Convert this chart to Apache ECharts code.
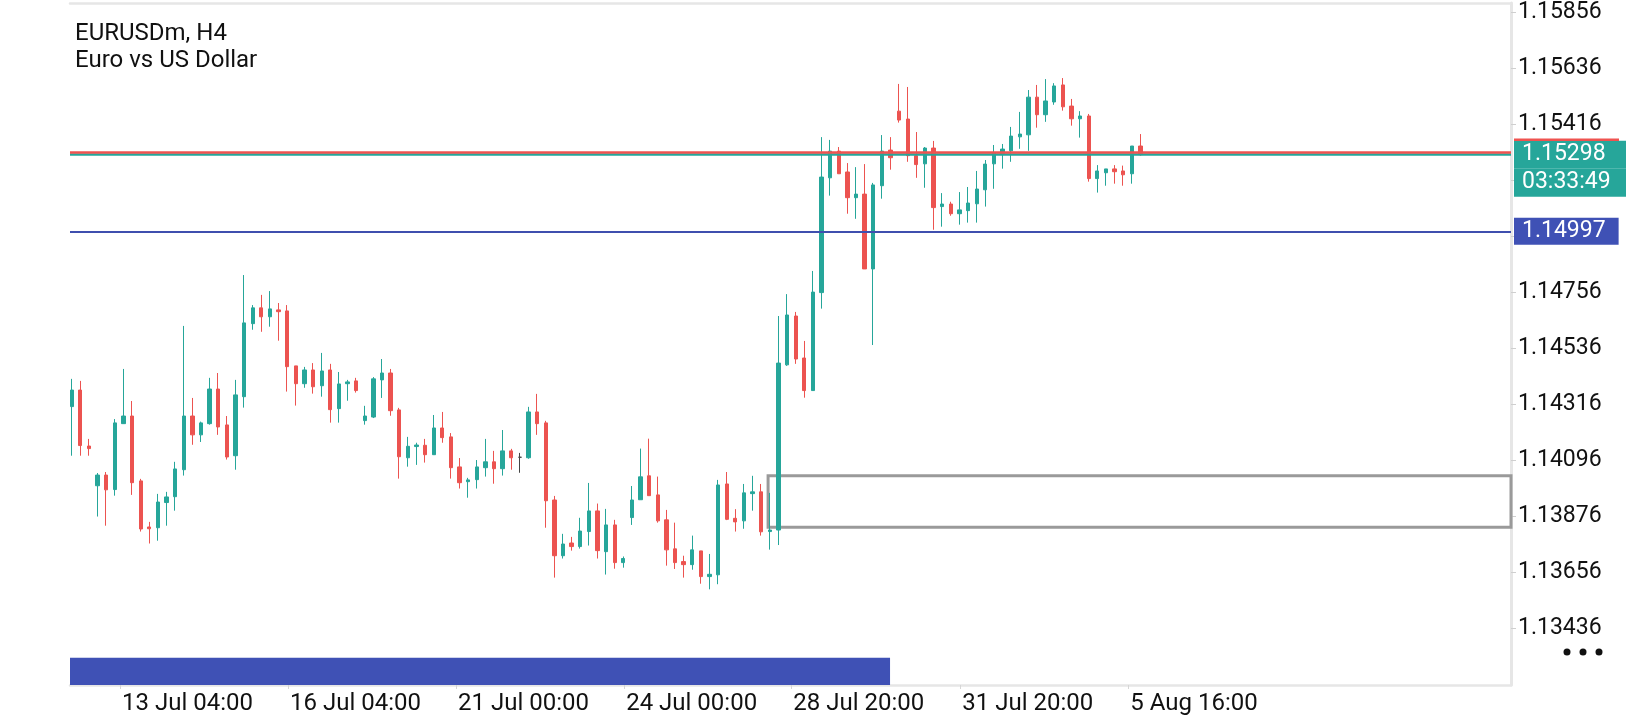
<!DOCTYPE html>
<html>
<head>
<meta charset="utf-8">
<script src="https://cdn.jsdelivr.net/npm/echarts@6/dist/echarts.min.js"></script>
<style>
  html, body { margin: 0; padding: 0; background: #fff; }
  #chart { width: 1640px; height: 720px; }
</style>
</head>
<body>
<div id="chart"></div>
<script>
// ---- data (EURUSDm, H4) ----
const opens = [1.14308,1.14373,1.14153,1.13997,1.14039,1.13982,1.14241,1.14271,1.14016,1.13835,
1.13832,1.13931,1.13954,1.14060,1.14271,1.14197,1.14241,1.14377,1.14236,1.14115,
1.14347,1.14634,1.14696,1.14661,1.14688,1.14684,1.14468,1.14398,1.14452,1.14390,
1.14452,1.14300,1.14398,1.14409,1.14253,1.14267,1.14413,1.14440,1.14295,1.14107,
1.14151,1.14156,1.14119,1.14224,1.14189,1.14071,1.14013,1.14021,1.14068,1.14091,
1.14064,1.14134,1.14109,1.14107,1.14287,1.14244,1.13941,1.13722,1.13772,1.13758,
1.13817,1.13898,1.13738,1.13843,1.13695,1.13872,1.13942,1.14036,1.13961,1.13863,
1.13749,1.13699,1.13687,1.13741,1.13640,1.13647,1.14004,1.13869,1.13859,1.13966,
1.13973,1.13817,1.13823,1.14472,1.14664,1.14499,1.14371,1.14756,1.15207,1.15312,
1.15230,1.15129,1.15143,1.14849,1.15176,1.15316,1.15469,1.15438,1.15294,1.15262,
1.15324,1.15094,1.15104,1.15066,1.15078,1.15105,1.15160,1.15262,1.15300,1.15313,
1.15368,1.15376,1.15524,1.15455,1.15505,1.15572,1.15489,1.15439,1.15450,1.15204,
1.15227,1.15242,1.15234,1.15223,1.15332];
const closes = [1.14373,1.14155,1.14143,1.14039,1.13981,1.14244,1.14271,1.14009,1.13827,1.13828,
1.13933,1.13953,1.14063,1.14271,1.14197,1.14244,1.14377,1.14228,1.14110,1.14354,
1.14637,1.14696,1.14661,1.14692,1.14681,1.14465,1.14398,1.14452,1.14386,1.14448,
1.14296,1.14397,1.14405,1.14371,1.14271,1.14417,1.14440,1.14292,1.14111,1.14152,
1.14157,1.14119,1.14224,1.14186,1.14068,1.14009,1.14020,1.14071,1.14091,1.14064,
1.14134,1.14107,1.14109,1.14287,1.14241,1.13938,1.13722,1.13768,1.13758,1.13819,
1.13898,1.13742,1.13843,1.13695,1.13711,1.13941,1.14032,1.13958,1.13859,1.13745,
1.13695,1.13687,1.13745,1.13640,1.13649,1.14000,1.13865,1.13855,1.13969,1.13973,
1.13816,1.13823,1.14479,1.14668,1.14495,1.14371,1.14758,1.15210,1.15312,1.15223,
1.15129,1.15143,1.14849,1.15179,1.15312,1.15286,1.15434,1.15294,1.15259,1.15324,
1.15090,1.15104,1.15066,1.15081,1.15108,1.15163,1.15261,1.15304,1.15320,1.15371,
1.15379,1.15524,1.15455,1.15509,1.15568,1.15486,1.15439,1.15450,1.15204,1.15234,
1.15242,1.15231,1.15219,1.15332,1.15298];
const lows = [1.14115,1.14115,1.14115,1.13876,1.13840,1.13958,1.14241,1.13961,1.13817,1.13770,
1.13781,1.13840,1.13899,1.14037,1.14158,1.14169,1.14237,1.14197,1.14100,1.14060,
1.14304,1.14610,1.14602,1.14622,1.14567,1.14367,1.14312,1.14382,1.14359,1.14347,
1.14245,1.14245,1.14331,1.14363,1.14237,1.14263,1.14342,1.14272,1.14025,1.14072,
1.14079,1.14088,1.14119,1.14166,1.14025,1.13986,1.13950,1.13986,1.14033,1.14005,
1.14037,1.14060,1.14048,1.14103,1.14197,1.13832,1.13636,1.13711,1.13742,1.13750,
1.13762,1.13711,1.13648,1.13671,1.13675,1.13843,1.13942,1.13958,1.13852,1.13683,
1.13670,1.13636,1.13667,1.13612,1.13590,1.13610,1.13862,1.13817,1.13828,1.13899,
1.13801,1.13746,1.13764,1.14468,1.14476,1.14343,1.14371,1.14693,1.15137,1.15223,
1.15066,1.15046,1.14849,1.14550,1.15125,1.15239,1.15424,1.15270,1.15207,1.15168,
1.15003,1.15015,1.15058,1.15023,1.15031,1.15031,1.15094,1.15164,1.15243,1.15270,
1.15321,1.15313,1.15404,1.15427,1.15494,1.15471,1.15412,1.15365,1.15192,1.15149,
1.15176,1.15184,1.15176,1.15184,1.15294];
const highs = [1.14417,1.14409,1.14181,1.14047,1.14051,1.14259,1.14456,1.14330,1.14024,1.13855,
1.13965,1.13973,1.14091,1.14625,1.14342,1.14249,1.14421,1.14440,1.14271,1.14413,
1.14825,1.14707,1.14747,1.14762,1.14715,1.14707,1.14468,1.14464,1.14479,1.14519,
1.14476,1.14444,1.14413,1.14421,1.14311,1.14424,1.14495,1.14456,1.14303,1.14189,
1.14166,1.14181,1.14275,1.14287,1.14204,1.14106,1.14028,1.14098,1.14181,1.14134,
1.14216,1.14142,1.14126,1.14307,1.14358,1.14252,1.13957,1.13808,1.13796,1.13871,
1.14008,1.13927,1.13906,1.13863,1.13719,1.13996,1.14143,1.14182,1.14033,1.13902,
1.13852,1.13722,1.13801,1.13741,1.13729,1.14020,1.14051,1.13905,1.14004,1.14036,
1.14004,1.13969,1.14664,1.14750,1.14680,1.14566,1.14841,1.15367,1.15356,1.15328,
1.15265,1.15249,1.15261,1.15187,1.15375,1.15367,1.15576,1.15564,1.15387,1.15328,
1.15352,1.15147,1.15113,1.15151,1.15171,1.15234,1.15277,1.15336,1.15340,1.15407,
1.15466,1.15552,1.15572,1.15595,1.15579,1.15599,1.15517,1.15469,1.15458,1.15257,
1.15242,1.15257,1.15255,1.15332,1.15379];

const priceTicks  = [1.15856,1.15636,1.15416,1.15196,1.14976,1.14756,1.14536,1.14316,1.14096,1.13876,1.13656,1.13436];
const priceLabels = [1.15856,1.15636,1.15416,1.14756,1.14536,1.14316,1.14096,1.13876,1.13656,1.13436];
const timeTickBars  = [5.6, 25.1, 44.6, 64.1, 83.5, 103.1, 122.6];
const timeTickTexts = ['13 Jul 04:00','16 Jul 04:00','21 Jul 00:00','24 Jul 00:00','28 Jul 20:00','31 Jul 20:00','5 Aug 16:00'];

const bidPrice = 1.15298;
const askPrice = 1.15306;
const levelPrice = 1.14997;
const countdown = '03:33:49';
const zoneStartBar = 80.8, zoneTop = 1.14036, zoneBottom = 1.13834;
const panelEndBar = 94.95, panelTop = 1.13321;

// ---- axis ranges ----
const X_MIN = -0.2, X_MAX = 167;
const Y_MIN = 1.13214, Y_MAX = 1.15894;

const UP = '#26a69a', DOWN = '#ec5350';
const FONT = 'Roboto';

const candles = opens.map((o, i) => [i, o, closes[i], lows[i], highs[i]]);

const chart = echarts.init(document.getElementById('chart'), null, { renderer: 'canvas' });

chart.setOption({
  animation: false,
  backgroundColor: '#ffffff',
  title: {
    text: 'EURUSDm, H4\nEuro vs US Dollar',
    left: 75, top: 20, padding: 0,
    textStyle: { fontFamily: FONT, fontSize: 24, fontWeight: 'normal', color: '#111111', lineHeight: 27.6 }
  },
  grid: { left: 70, right: 129, top: 3, bottom: 35, containLabel: false },
  xAxis: [{
    type: 'value', min: X_MIN, max: X_MAX, position: 'bottom',
    splitLine: { show: false },
    axisLine: { show: true, onZero: false, lineStyle: { color: '#e6e6e6', width: 2.5 } },
    axisTick: { show: true, customValues: timeTickBars, length: 4, lineStyle: { color: '#d6d6d6', width: 1 } },
    axisLabel: {
      show: true, customValues: timeTickBars, align: 'left', margin: 7, padding: [0, 0, 0, 2],
      fontFamily: FONT, fontSize: 24, color: '#111111',
      formatter: v => timeTickTexts[timeTickBars.indexOf(v)] || ''
    }
  }, {
    type: 'value', min: 0, max: 1, position: 'top',
    splitLine: { show: false }, axisTick: { show: false }, axisLabel: { show: false },
    axisLine: { show: true, onZero: false, lineStyle: { color: '#e6e6e6', width: 2.5 } }
  }],
  yAxis: {
    type: 'value', position: 'right', min: Y_MIN, max: Y_MAX,
    splitLine: { show: false },
    axisLine: { show: true, onZero: false, lineStyle: { color: '#e6e6e6', width: 3 } },
    axisTick: { show: true, customValues: priceTicks, length: 5, lineStyle: { color: '#cfcfcf', width: 1 } },
    axisLabel: {
      show: true, customValues: priceLabels, margin: 7,
      fontFamily: FONT, fontSize: 23, color: '#111111',
      formatter: v => v.toFixed(5)
    }
  },
  series: [{
    type: 'candlestick',
    xAxisIndex: 0, yAxisIndex: 0,
    data: candles,
    barWidth: 3.8,
    itemStyle: {
      color: UP, color0: DOWN, borderColor: UP, borderColor0: DOWN,
      borderColorDoji: '#444444', borderWidth: 1
    },
    markArea: {
      silent: true,
      data: [
        [{ xAxis: zoneStartBar, yAxis: zoneTop, itemStyle: { color: 'rgba(0,0,0,0)', borderColor: '#9a9a9a', borderWidth: 3 } },
         { xAxis: X_MAX, yAxis: zoneBottom }],
        [{ xAxis: X_MIN, yAxis: panelTop, itemStyle: { color: '#3f51b5', borderWidth: 0 } },
         { xAxis: panelEndBar, yAxis: Y_MIN }]
      ]
    },
    markLine: {
      silent: true, symbol: 'none', animation: false, precision: 5,
      data: [
        {
          yAxis: bidPrice,
          lineStyle: { color: UP, width: 2.5, type: 'solid' },
          label: {
            show: true, position: 'end', distance: 3,
            formatter: p => '{s| }\n{p|' + Number(p.value).toFixed(5) + '}\n{t|' + countdown + '}',
            rich: {
              s: { fontSize: 1, height: 28, lineHeight: 28, width: 104 },
              p: { fontFamily: FONT, fontSize: 23, color: '#ffffff', height: 28, lineHeight: 28, width: 104, padding: [0, 0, 0, 8], backgroundColor: UP },
              t: { fontFamily: FONT, fontSize: 23, color: '#ffffff', height: 28, lineHeight: 28, width: 104, padding: [0, 0, 0, 8], backgroundColor: UP }
            }
          }
        },
        {
          yAxis: askPrice,
          lineStyle: { color: '#ef5350', width: 2.5, type: 'solid' },
          label: {
            show: true, position: 'end', distance: 3,
            formatter: '{r| }\n{s| }',
            rich: {
              r: { fontSize: 1, height: 2.5, lineHeight: 2.5, width: 105, backgroundColor: '#ef5350' },
              s: { fontSize: 1, height: 26, lineHeight: 26, width: 105 }
            }
          }
        },
        {
          yAxis: levelPrice,
          lineStyle: { color: '#3f4fae', width: 2, type: 'solid' },
          label: {
            show: true, position: 'end', distance: 3,
            formatter: p => Number(p.value).toFixed(5),
            fontFamily: FONT, fontSize: 23, lineHeight: 23, color: '#ffffff',
            backgroundColor: '#3f51b5', padding: [2, 13, 2, 8]
          }
        }
      ]
    }
  }],
  graphic: [
    { type: 'circle', shape: { cx: 1567, cy: 652, r: 3.5 }, style: { fill: '#111111' }, silent: true },
    { type: 'circle', shape: { cx: 1583, cy: 652, r: 3.5 }, style: { fill: '#111111' }, silent: true },
    { type: 'circle', shape: { cx: 1599, cy: 652, r: 3.5 }, style: { fill: '#111111' }, silent: true }
  ]
});
</script>
</body>
</html>
